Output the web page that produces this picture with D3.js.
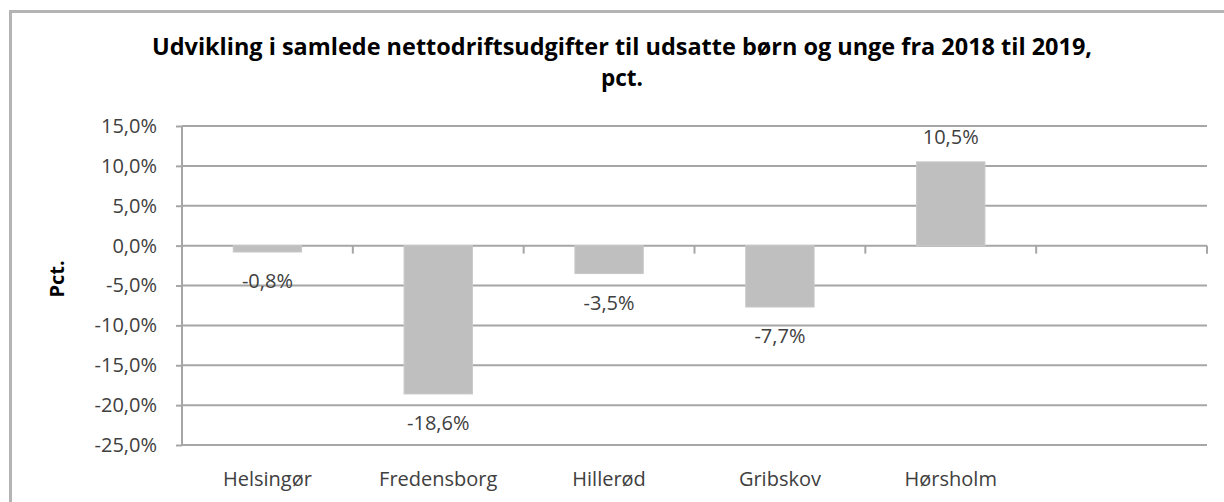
<!DOCTYPE html>
<html>
<head>
<meta charset="utf-8">
<script src="https://cdn.jsdelivr.net/npm/d3@7"></script>
<style>
  body { margin: 0; background: #fff; }
  svg { display: block; }
  text { font-family: "Open Sans", Lato, sans-serif; }
</style>
</head>
<body>
<div class="chart"></div>
<script>
const categories = ['Helsingør', 'Fredensborg', 'Hillerød', 'Gribskov', 'Hørsholm', ''];
const values = [-0.8, -18.6, -3.5, -7.7, 10.5, null];
const yTicks = [15, 10, 5, 0, -5, -10, -15, -20, -25];
const titleLines = ['Udvikling i samlede nettodriftsudgifter til udsatte børn og unge fra 2018 til 2019,', 'pct.'];
const yTitle = 'Pct.';

const outerWidth = 1224;
const outerHeight = 502;
const margin = { top: 126, right: 17, bottom: 57, left: 182 };
const width = outerWidth - margin.left - margin.right;
const height = outerHeight - margin.top - margin.bottom;

const gridColor = '#a6a6a6';
const barColor = '#bfbfbf';
const textColor = '#404040';
const fontSize = 20;

const pct = d => d3.format('.1f')(d).replace('.', ',').replace('−', '-') + '%';

const svg = d3.select('.chart').append('svg')
    .attr('width', outerWidth)
    .attr('height', outerHeight);

// Frame (top + left edge only)
svg.append('path')
    .attr('d', `M10.5,${outerHeight} V11.5 H${outerWidth}`)
    .attr('fill', 'none')
    .attr('stroke', '#b4b4b4')
    .attr('stroke-width', 3);

// Title
const title = svg.append('text')
    .attr('text-anchor', 'middle')
    .attr('font-weight', 'bold')
    .attr('font-size', 22.5)
    .attr('fill', '#000');
title.append('tspan')
    .attr('x', 622).attr('y', 55)
    .attr('textLength', 940)
    .attr('lengthAdjust', 'spacingAndGlyphs')
    .text(titleLines[0]);
title.append('tspan')
    .attr('x', 622).attr('y', 86)
    .text(titleLines[1]);

const g = svg.append('g')
    .attr('transform', `translate(${margin.left}, ${margin.top})`);

// Scales
const x = d3.scaleBand().domain(categories).range([0, width]).paddingInner(0.6).paddingOuter(0.3);
const y = d3.scaleLinear().domain([-25, 15]).range([height, 0]);

// Gridlines
g.append('g')
    .selectAll('line')
    .data(yTicks)
    .join('line')
    .attr('x1', 0)
    .attr('x2', width)
    .attr('y1', d => y(d))
    .attr('y2', d => y(d))
    .attr('stroke', gridColor)
    .attr('stroke-width', 2);

// Y axis
const yAxis = d3.axisLeft(y)
    .tickValues(yTicks)
    .tickSize(6)
    .tickPadding(19)
    .tickFormat(pct);

const gy = g.append('g').call(yAxis);
gy.select('.domain').attr('stroke', gridColor).attr('stroke-width', 2).attr('d', `M0,0V${height}`);
gy.selectAll('.tick line').attr('stroke', gridColor).attr('stroke-width', 2);
gy.selectAll('.tick text')
    .attr('font-family', '"Open Sans", Lato, sans-serif')
    .attr('font-size', fontSize)
    .attr('fill', textColor);

// Category ticks on the zero line
const step = x.step();
g.append('g')
    .selectAll('line')
    .data(d3.range(categories.length + 1))
    .join('line')
    .attr('x1', i => i * step)
    .attr('x2', i => i * step)
    .attr('y1', y(0))
    .attr('y2', y(0) + 8)
    .attr('stroke', gridColor)
    .attr('stroke-width', 2);

// Bars
const bars = categories.map((c, i) => ({ c, v: values[i] })).filter(d => d.v !== null);

g.append('g')
    .selectAll('rect')
    .data(bars)
    .join('rect')
    .attr('x', d => x(d.c))
    .attr('width', x.bandwidth())
    .attr('y', d => y(Math.max(0, d.v)))
    .attr('height', d => Math.abs(y(d.v) - y(0)))
    .attr('fill', barColor)
    .attr('stroke', '#c8c8c8')
    .attr('stroke-width', 1);

// Data labels
g.append('g')
    .selectAll('text')
    .data(bars)
    .join('text')
    .attr('x', d => x(d.c) + x.bandwidth() / 2)
    .attr('y', d => d.v < 0 ? y(d.v) + 36 : y(d.v) - 18)
    .attr('text-anchor', 'middle')
    .attr('font-size', fontSize)
    .attr('fill', textColor)
    .text(d => pct(d.v));

// Category labels
g.append('g')
    .selectAll('text')
    .data(categories.filter(c => c !== ''))
    .join('text')
    .attr('x', d => x(d) + x.bandwidth() / 2)
    .attr('y', height + 41)
    .attr('text-anchor', 'middle')
    .attr('font-size', fontSize)
    .attr('fill', textColor)
    .text(d => d);

// Y axis title
svg.append('text')
    .attr('transform', `translate(64, 279) rotate(-90)`)
    .attr('text-anchor', 'middle')
    .attr('font-weight', 'bold')
    .attr('font-size', 20)
    .attr('fill', '#000')
    .text(yTitle);
</script>
</body>
</html>
